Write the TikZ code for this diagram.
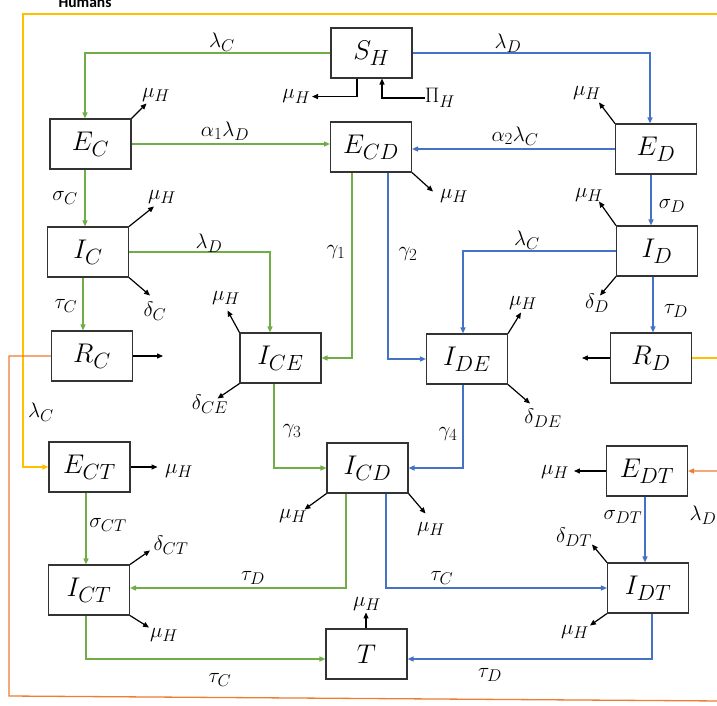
\RequirePackage{fix-cm}
\documentclass[tikz,border=0pt]{standalone}
\usepackage{fontspec}
\newfontfamily\humfont{Carlito}
\usetikzlibrary{arrows.meta,calc}
\DeclareMathSizes{21}{21}{17}{12}
\DeclareMathSizes{27}{27}{22}{16}
\definecolor{cgreen}{RGB}{112,173,71}
\definecolor{cblue}{RGB}{68,114,196}
\definecolor{cyellow}{RGB}{255,192,0}
\definecolor{corange}{RGB}{237,125,49}
\begin{document}
\begin{tikzpicture}[x=1pt,y=-1pt,
  box/.style={draw=black!80, line width=1.1pt, minimum width=81pt, minimum height=50pt, inner sep=0pt, font=\fontsize{27}{29}\selectfont},
  lbl/.style={font=\fontsize{21}{23}\selectfont, inner sep=0pt},
  tip/.style={-{Triangle[length=6pt,width=5pt]}},
  gr/.style={draw=cgreen, line width=1.3pt, tip},
  bl/.style={draw=cblue, line width=1.3pt, tip},
  bk/.style={draw=black, line width=1.2pt, tip},
  yel/.style={draw=cyellow, line width=1.3pt, tip},
  ora/.style={draw=corange, line width=1.3pt, tip}]
\useasboundingbox (0,0) rectangle (717,706);
\clip (0,0) rectangle (717,706);
% boxes
\node[box] (SH) at (371.5,53) {$S_H$};
\node[box] (EC) at (90.5,144) {$E_C$};
\node[box] (ECD) at (371,147) {$E_{CD}$};
\node[box] (ED) at (656,149) {$E_D$};
\node[box] (IC) at (88,252) {$I_C$};
\node[box] (ID) at (657,251) {$I_D$};
\node[box] (RC) at (92,356) {$R_C$};
\node[box] (RD) at (651,358) {$R_D$};
\node[box] (ICE) at (280.5,358) {$I_{CE}$};
\node[box] (IDE) at (467,359) {$I_{DE}$};
\node[box] (ICD) at (367.5,468) {$I_{CD}$};
\node[box] (ECT) at (89.5,467) {$E_{CT}$};
\node[box] (EDT) at (647,471) {$E_{DT}$};
\node[box] (ICT) at (89,590) {$I_{CT}$};
\node[box] (IDT) at (648,588) {$I_{DT}$};
\node[box] (T) at (366.5,654) {$T$};
% frame lines
\node[font=\humfont\bfseries\fontsize{15.5}{16}\selectfont, anchor=base] (hum) at (85,8) {Humans};
\coordinate (yTR) at (722,14);
\coordinate (yTL) at (23,14);
\draw[yel] (RD.east) -| (yTR) -- (yTL) |- (ECT.west);
\coordinate (oBL) at (9,696);
\coordinate (oBR) at (722,701);
\draw[ora] (RC.west) -| (oBL) -- (oBR) |- (EDT.east);
\node[lbl] (lCy) at (41,412) {$\lambda_C$};
\node[lbl] (lDo) at (703,515) {$\lambda_D$};
% S_H flows
\draw[gr] (SH.west) -| ([xshift=-5.5pt]EC.north);
\node[lbl] (lC1) at (222,42) {$\lambda_C$};
\draw[bl] (SH.east) -| ([xshift=-6pt]ED.north);
\node[lbl] (lD1) at (508,43) {$\lambda_D$};
\draw[bk] ([xshift=-14.5pt]SH.south) -- ++(0,18) -- ++(-45,0) node[left=1pt,lbl] (muSH) {$\mu_H$};
\node[lbl] (PiH) at (440,98) {$\Pi_H$};
\draw[bk] (PiH.west) -| ([xshift=10.5pt]SH.south);
% row 2
\draw[gr] (EC.east) -- (EC.east -| ECD.west);
\node[lbl] (a1) at (225,131) {$\alpha_1\lambda_D$};
\draw[bl] (ED.west) -- (ED.west -| ECD.east);
\node[lbl] (a2) at (515,136) {$\alpha_2\lambda_C$};
\draw[bk] (EC.north east) -- ++(15,-15);
\node[lbl] (muEC) at (156,95) {$\mu_H$};
\draw[bk] (ECD.south east) -- ++(21,19);
\node[lbl] (muECD) at (454,196) {$\mu_H$};
\draw[bk] (ED.north west) -- ++(-16,-21);
\node[lbl] (muED) at (587,93) {$\mu_H$};
\draw[gr] ([xshift=-5.5pt]EC.south) -- ([xshift=-5.5pt]EC.south |- IC.north);
\node[lbl] (sC) at (65,198) {$\sigma_C$};
\draw[bl] ([xshift=-5pt]ED.south) -- ([xshift=-5pt]ED.south |- ID.north);
\node[lbl] (sD) at (672,206) {$\sigma_D$};
% row 3
\draw[bk] (IC.north east) -- ++(25,-20);
\node[lbl] (muIC) at (162,197) {$\mu_H$};
\draw[bk] (ID.north west) -- ++(-17,-24);
\node[lbl] (muID) at (589,195) {$\mu_H$};
\draw[bk] (IC.south east) -- ++(21,18);
\node[lbl] (dC) at (155,311) {$\delta_C$};
\draw[bk] (ID.south west) -- ++(-16,19);
\node[lbl] (dD) at (597,303) {$\delta_D$};
\draw[gr] ([xshift=-5pt]IC.south) -- ([xshift=-5pt]IC.south |- RC.north);
\node[lbl] (tC1) at (66,306) {$\tau_C$};
\draw[bl] ([xshift=-4pt]ID.south) -- ([xshift=-4pt]ID.south |- RD.north);
\node[lbl] (tD1) at (676,311) {$\tau_D$};
\draw[gr] (IC.east) -| ([xshift=-10.5pt]ICE.north);
\node[lbl] (lD2) at (209,243) {$\lambda_D$};
\draw[bl] (ID.west) -| ([xshift=-4pt]IDE.north);
\node[lbl] (lC2) at (527,240) {$\lambda_C$};
\draw[gr] ([xshift=-19pt]ECD.south) |- (ICE.east);
\node[lbl] (g1) at (336,252) {$\gamma_1$};
\draw[bl] ([xshift=17pt]ECD.south) |- (IDE.west);
\node[lbl] (g2) at (408,254) {$\gamma_2$};
% row 4
\draw[bk] (RC.east) -- ++(30,0);
\draw[bk] (RD.west) -- ++(-28,0);
\draw[bk] (ICE.north west) -- ++(-12,-22);
\node[lbl] (muICE) at (226,298) {$\mu_H$};
\draw[bk] (ICE.south west) -- ++(-22,15);
\node[lbl] (dCE) at (210,404) {$\delta_{CE}$};
\draw[bk] (IDE.north east) -- ++(13,-21);
\node[lbl] (muIDE) at (523,303) {$\mu_H$};
\draw[bk] (IDE.south east) -- ++(22,19);
\node[lbl] (dDE) at (543,418) {$\delta_{DE}$};
\draw[gr] ([xshift=-6.5pt]ICE.south) |- (ICD.west);
\node[lbl] (g3) at (292,431) {$\gamma_3$};
\draw[bl] ([xshift=-4pt]IDE.south) |- (ICD.east);
\node[lbl] (g4) at (448,434) {$\gamma_4$};
% row 5
\draw[bk] (ECT.east) -- ++(27,0);
\node[lbl] (muECT) at (179,471) {$\mu_H$};
\draw[bk] (EDT.west) -- ++(-32,0);
\node[lbl] (muEDT) at (555,472) {$\mu_H$};
\draw[bk] (ICD.south west) -- ++(-22,16);
\node[lbl] (muICD1) at (293,516) {$\mu_H$};
\draw[bk] (ICD.south east) -- ++(17,20);
\node[lbl] (muICD2) at (431,529) {$\mu_H$};
\draw[gr] ([xshift=-3.5pt]ECT.south) -- ([xshift=-3.5pt]ECT.south |- ICT.north);
\node[lbl] (sCT) at (108,525) {$\sigma_{CT}$};
\draw[bl] ([xshift=-2pt]EDT.south) -- ([xshift=-2pt]EDT.south |- IDT.north);
\node[lbl] (sDT) at (623,517) {$\sigma_{DT}$};
% row 6
\draw[bk] (ICT.north east) -- ++(20,-14);
\node[lbl] (dCT) at (171,545) {$\delta_{CT}$};
\draw[bk] (IDT.north west) -- ++(-15,-18);
\node[lbl] (dDT) at (574,537) {$\delta_{DT}$};
\draw[bk] (ICT.south east) -- ++(19,12);
\node[lbl] (muICT) at (164,635) {$\mu_H$};
\draw[bk] (IDT.south west) -- ++(-17,12);
\node[lbl] (muIDT) at (575,632) {$\mu_H$};
\draw[gr] ([xshift=-21.5pt]ICD.south) |- ([yshift=2pt]ICT.east);
\node[lbl] (tD2) at (253,578) {$\tau_D$};
\draw[bl] ([xshift=18.5pt]ICD.south) |- (IDT.west);
\node[lbl] (tC2) at (442,578) {$\tau_C$};
% T
\draw[gr] ([xshift=-3pt]ICT.south) |- ([yshift=-5pt]T.west);
\node[lbl] (tC3) at (220,680) {$\tau_C$};
\draw[bl] ([xshift=4pt]IDT.south) |- ([yshift=-5pt]T.east);
\node[lbl] (tD3) at (490,675) {$\tau_D$};
\draw[bk] ([xshift=-0.5pt]T.north) -- ++(0,-16);
\node[lbl] (muT) at (367,604) {$\mu_H$};
\end{tikzpicture}
\end{document}
